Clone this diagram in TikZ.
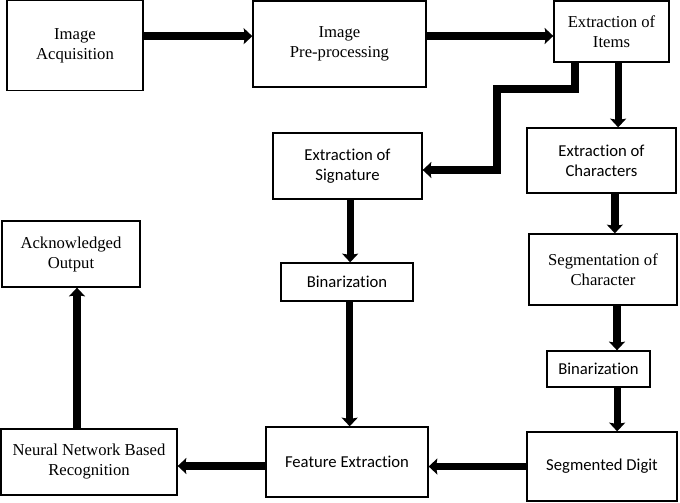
\documentclass[tikz,border=0pt]{standalone}
\usepackage{fontspec}
\setmainfont{Liberation Serif}
\newfontfamily\calibri[Ligatures=NoCommon]{Carlito}
\usetikzlibrary{positioning,arrows.meta,calc}
\tikzset{
  flow/.style={-{Stealth[length=6.5pt,width=12pt,inset=1pt]},line width=5.5pt,draw=black,line join=miter},
  box/.style={draw=black,line width=1pt,fill=white,align=center,inner sep=0pt,
    font=\fontsize{12.5}{15}\selectfont},
  sbox/.style={box,font=\calibri\fontsize{12.5}{15}\selectfont}
}
\begin{document}
\begin{tikzpicture}[x=0.75pt,y=-0.75pt]
  \useasboundingbox (0,0) rectangle (680,502);
  % top row
  \node[box,minimum width=102pt,minimum height=67.5pt] (acq) at (75,45.5) {Image\\Acquisition};
  \node[box,minimum width=129.75pt,minimum height=64.5pt] (pre) at (339.5,44) {Image\\Pre-processing};
  \node[box,minimum width=86.25pt,minimum height=45.75pt] (items) at (611.5,31.5) {Extraction of\\Items};
  % right column
  \node[sbox,minimum width=111.75pt,minimum height=48.75pt] (chars) at (601.5,160.5) {Extraction of\\Characters};
  \node[box,minimum width=111pt,minimum height=53.25pt] (segc) at (603,269.5) {Segmentation of\\Character};
  \node[sbox,minimum width=77.25pt,minimum height=27pt] (binr) at (598.5,369) {Binarization};
  \node[sbox,minimum width=112.5pt,minimum height=51.75pt] (digit) at (602,466.5) {Segmented Digit};
  % middle column
  \node[sbox,minimum width=111.75pt,minimum height=49.5pt] (sig) at (347.5,166) {Extraction of\\Signature};
  \node[sbox,minimum width=99pt,minimum height=28.5pt] (binl) at (347,282) {Binarization};
  \node[sbox,minimum width=121.5pt,minimum height=52.5pt] (feat) at (347,462) {Feature Extraction};
  % left column
  \node[box,minimum width=103.5pt,minimum height=49.5pt] (ack) at (71,254) {Acknowledged\\Output};
  \node[box,minimum width=132pt,minimum height=49.5pt] (nn) at (89,462) {Neural Network Based\\Recognition};
  \coordinate (bend) at (497,89);
  % connectors
  \draw[flow] ([yshift=7pt]acq.east) coordinate (a1) -- (a1 -| pre.west);
  \draw[flow] ([yshift=6pt]pre.east) coordinate (a2) -- (a2 -| items.west);
  \draw[flow] ([xshift=5pt]items.south) coordinate (a3) -- (a3 |- chars.north);
  \draw[flow] ([xshift=-27.4pt]items.south) |- (bend) |- ([yshift=-3pt]sig.east);
  \draw[flow] ([xshift=10pt]chars.south) coordinate (a4) -- (a4 |- segc.north);
  \draw[flow] ([xshift=10.5pt]segc.south) coordinate (a5) -- (a5 |- binr.north);
  \draw[flow] ([xshift=14pt]binr.south) coordinate (a6) -- (a6 |- digit.north);
  \draw[flow] (digit.west) -- (digit.west -| feat.east);
  \draw[flow] ([xshift=2pt]sig.south) coordinate (a7) -- (a7 |- binl.north);
  \draw[flow] ([xshift=2pt]binl.south) coordinate (a8) -- (a8 |- feat.north);
  \draw[flow] ([yshift=-3pt]feat.west) coordinate (a9) -- (a9 -| nn.east);
  \draw[flow] ([xshift=-9pt]nn.north) coordinate (a10) -- (a10 |- ack.south);
\end{tikzpicture}
\end{document}
